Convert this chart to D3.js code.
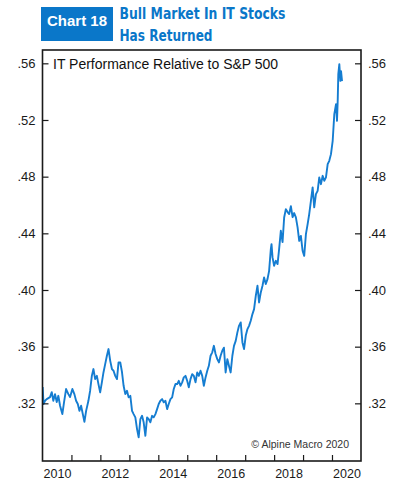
<!DOCTYPE html>
<html>
<head>
<meta charset="utf-8">
<script src="https://cdn.jsdelivr.net/npm/d3@7"></script>
<style>
  html, body { margin: 0; padding: 0; background: #fff; }
  svg { display: block; }
  text { font-family: "Liberation Sans", Arial, sans-serif; }
</style>
</head>
<body>
<svg id="chart" width="403" height="489"></svg>
<script>
// ---- data ----
const chartLabel = "Chart 18";
const titleLines = ["Bull Market In IT Stocks", "Has Returned"];
const seriesName = "IT Performance Relative to S&P 500";
const sourceNote = "\u00A9 Alpine Macro 2020";

// decimal years
const dates = [
  2010.007,2010.035,2010.087,2010.146,2010.26,2010.32,2010.374,2010.433,2010.492,2010.548,
  2010.607,2010.686,2010.745,2010.815,2010.894,2010.953,2011.033,2011.102,2011.161,2011.22,
  2011.276,2011.334,2011.393,2011.449,2011.508,2011.587,2011.646,2011.705,2011.761,2011.82,
  2011.879,2011.934,2011.993,2012.052,2012.107,2012.166,2012.225,2012.281,2012.34,2012.399,
  2012.454,2012.513,2012.572,2012.627,2012.686,2012.745,2012.801,2012.86,2012.918,2012.974,
  2013.033,2013.092,2013.147,2013.206,2013.265,2013.321,2013.38,2013.438,2013.494,2013.553,
  2013.612,2013.667,2013.726,2013.785,2013.84,2013.9,2013.958,2014.014,2014.073,2014.132,
  2014.187,2014.246,2014.305,2014.36,2014.42,2014.478,2014.534,2014.593,2014.652,2014.707,
  2014.766,2014.825,2014.88,2014.94,2014.998,2015.054,2015.113,2015.172,2015.227,2015.286,
  2015.345,2015.4,2015.459,2015.518,2015.574,2015.633,2015.692,2015.747,2015.806,2015.865,
  2015.92,2015.979,2016.038,2016.094,2016.153,2016.211,2016.267,2016.326,2016.385,2016.44,
  2016.499,2016.558,2016.614,2016.673,2016.731,2016.787,2016.846,2016.905,2016.96,2017.019,
  2017.078,2017.133,2017.192,2017.251,2017.307,2017.366,2017.425,2017.48,2017.539,2017.598,
  2017.653,2017.712,2017.771,2017.827,2017.886,2017.91,2017.945,2018.0,2018.059,2018.118,
  2018.173,2018.232,2018.291,2018.347,2018.405,2018.464,2018.52,2018.579,2018.638,2018.693,
  2018.752,2018.811,2018.867,2018.925,2018.984,2019.04,2019.099,2019.158,2019.213,2019.272,
  2019.331,2019.386,2019.445,2019.504,2019.56,2019.619,2019.678,2019.733,2019.792,2019.851,
  2019.906,2019.965,2020.024,2020.08,2020.139,2020.173,2020.197,2020.218,2020.253,2020.288,
  2020.312,2020.346
];
const values = [
  .3315,.3195,.3218,.3230,.3244,.3279,.3218,.3265,.3209,.3253,
  .3183,.3124,.3209,.3301,.3265,.3244,.3301,.3265,.3218,.3195,
  .3147,.3183,.3124,.3070,.3147,.3218,.3289,.3394,.3442,.3371,
  .3394,.3336,.3277,.3348,.3418,.3477,.3536,.3583,.3500,.3442,
  .3430,.3394,.3371,.3489,.3489,.3421,.3324,.3265,.3289,.3242,
  .3253,.3147,.3124,.3101,.3018,.2960,.3089,.3112,.3066,.2971,
  .3101,.3089,.3066,.3112,.3101,.3124,.3159,.3195,.3218,.3230,
  .3207,.3218,.3159,.3195,.3230,.3242,.3301,.3336,.3336,.3359,
  .3324,.3348,.3383,.3394,.3359,.3313,.3371,.3406,.3394,.3348,
  .3418,.3394,.3430,.3394,.3324,.3383,.3430,.3465,.3536,.3560,
  .3606,.3548,.3512,.3489,.3536,.3571,.3593,.3418,.3512,.3465,
  .3418,.3536,.3606,.3641,.3701,.3747,.3771,.3630,.3583,.3677,
  .3724,.3747,.3783,.3830,.3865,.3959,.4030,.3912,.3983,.4030,
  .4089,.4042,.4077,.4135,.4289,.4324,.4230,.4171,.4206,.4183,
  .4289,.4418,.4338,.4512,.4571,.4550,.4536,.4592,.4514,.4543,
  .4512,.4442,.4347,.4382,.4277,.4241,.4394,.4465,.4536,.4629,
  .4724,.4583,.4677,.4700,.4795,.4747,.4806,.4771,.4795,.4888,
  .4912,.4959,.5053,.5241,.5312,.5194,.5335,.5524,.5594,.5476,
  .5545,.5474
];

const yTickValues = [0.32, 0.36, 0.40, 0.44, 0.48, 0.52, 0.56];
const yTickLabels = [".32", ".36", ".40", ".44", ".48", ".52", ".56"];
const xTickYears = [2011, 2012, 2013, 2014, 2015, 2016, 2017, 2018, 2019, 2020];
const xLabelYears = [2010, 2012, 2014, 2016, 2018, 2020];

// ---- helpers ----
function decToDate(d) {
  const y = Math.floor(d);
  const start = Date.UTC(y, 0, 1), end = Date.UTC(y + 1, 0, 1);
  return new Date(start + (d - y) * (end - start));
}
const series = dates.map((d, i) => ({ date: decToDate(d), value: values[i] }));

// ---- layout ----
const L = 42.5, R = 361, T = 50, B = 461;
const blue = "#0a77c9";
const lineBlue = "#157dd1";
const ink = "#1a1a1a";

const svg = d3.select("#chart");
svg.append("rect").attr("width", 403).attr("height", 489).attr("fill", "#fff");

const x = d3.scaleUtc()
  .domain([new Date(Date.UTC(2010, 0, 1)), new Date(Date.UTC(2021, 0, 1))])
  .range([L, R]);
const y = d3.scaleLinear().domain([0.2793, 0.5694]).range([B, T]);

// ---- header ----
svg.append("rect").attr("x", 41).attr("y", 7).attr("width", 72).attr("height", 34).attr("fill", blue);
svg.append("text").attr("x", 77).attr("y", 25.5).attr("text-anchor", "middle")
  .attr("fill", "#fff").attr("font-weight", "bold").attr("font-size", 15)
  .attr("textLength", 60).attr("lengthAdjust", "spacingAndGlyphs")
  .text(chartLabel);
const titleW = [166, 93];
const titleBase = [19, 40.5];
titleLines.forEach((t, i) => {
  svg.append("text").attr("x", 119.5).attr("y", titleBase[i])
    .attr("fill", blue).attr("font-weight", "bold").attr("font-size", 16)
    .style("font-family", "'Liberation Sans Narrow', 'Arial Narrow', 'DejaVu Sans Condensed', sans-serif")
    .attr("textLength", titleW[i]).attr("lengthAdjust", "spacingAndGlyphs")
    .text(t);
});

// ---- line ----
svg.append("clipPath").attr("id", "plotclip").append("rect")
  .attr("x", L).attr("y", T).attr("width", R - L).attr("height", B - T);
const line = d3.line().x(d => x(d.date)).y(d => y(d.value));
svg.append("path").datum(series)
  .attr("clip-path", "url(#plotclip)")
  .attr("fill", "none").attr("stroke", lineBlue).attr("stroke-width", 1.9)
  .attr("stroke-linejoin", "round")
  .attr("d", line);

// ---- axes ----
const yFmt = d => yTickLabels[yTickValues.indexOf(d)];
const gl = svg.append("g").attr("transform", `translate(${L},0)`)
  .call(d3.axisLeft(y).tickValues(yTickValues).tickFormat(yFmt).tickSize(-6).tickPadding(7));
const gr = svg.append("g").attr("transform", `translate(${R},0)`)
  .call(d3.axisRight(y).tickValues(yTickValues).tickFormat(yFmt).tickSize(-6).tickPadding(7));
const gb = svg.append("g").attr("transform", `translate(0,${B})`)
  .call(d3.axisBottom(x).tickValues(xTickYears.map(yy => new Date(Date.UTC(yy, 0, 1))))
    .tickFormat("").tickSize(-6));
const gbl = svg.append("g").attr("transform", `translate(0,${B})`)
  .call(d3.axisBottom(x).tickValues(xLabelYears.map(yy => new Date(Date.UTC(yy, 6, 2))))
    .tickFormat(d => String(d.getUTCFullYear())).tickSize(0).tickPadding(8.4));
[gl, gr, gb, gbl].forEach(g => {
  g.select(".domain").remove();
  g.selectAll(".tick line").attr("stroke", ink).attr("stroke-width", 1.2);
  g.selectAll(".tick text").attr("fill", ink)
    .style("font-family", "'Liberation Sans', Arial, sans-serif");
});
gl.selectAll(".tick text").attr("font-size", 13);
gr.selectAll(".tick text").attr("font-size", 13);
gbl.selectAll(".tick text").attr("font-size", 12.5);

// ---- frame ----
svg.append("rect").attr("x", L).attr("y", T).attr("width", R - L).attr("height", B - T)
  .attr("fill", "none").attr("stroke", ink).attr("stroke-width", 1.6);

// ---- in-plot texts ----
svg.append("text").attr("x", 53).attr("y", 68.7).attr("font-size", 14).attr("fill", "#111")
  .text(seriesName);
svg.append("text").attr("x", 349).attr("y", 448.3).attr("text-anchor", "end")
  .attr("font-size", 10.5).attr("fill", "#333").text(sourceNote);
</script>
</body>
</html>
